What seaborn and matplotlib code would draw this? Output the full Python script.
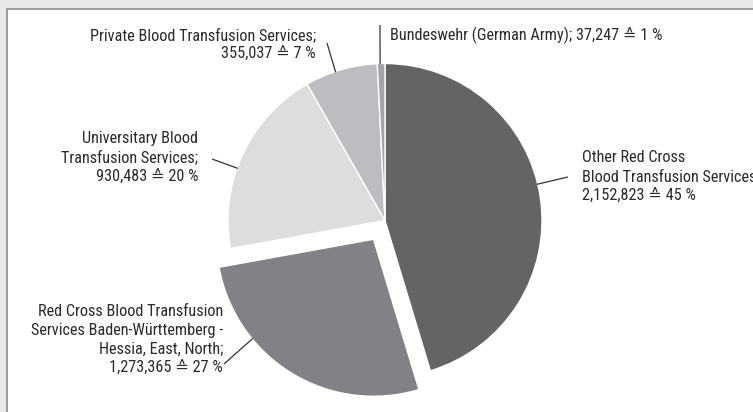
import numpy as np
import matplotlib
matplotlib.use("Agg")
import matplotlib.pyplot as plt
from matplotlib import font_manager as fm
from matplotlib.patches import Rectangle
import seaborn as sns

# ---- data ----
categories = [
    "Other Red Cross\nBlood Transfusion Services;",
    "Red Cross Blood Transfusion\nServices Baden-Württemberg -\nHessia, East, North;",
    "Universitary Blood\nTransfusion Services;",
    "Private Blood Transfusion Services;",
    "Bundeswehr (German Army);",
]
values = [2152823, 1273365, 930483, 355037, 37247]
value_labels = ["2,152,823", "1,273,365", "930,483", "355,037", "37,247"]
percent_labels = ["45 %", "27 %", "20 %", "7 %", "1 %"]

# ---- style ----
sns.set_theme(style="white")
installed = {f.name for f in fm.fontManager.ttflist}
preferred = ["Roboto Condensed", "Liberation Sans Narrow", "Open Sans Condensed",
             "DejaVu Sans Condensed", "Roboto", "Liberation Sans", "DejaVu Sans"]
main_font = next(f for f in preferred if f in installed)
plt.rcParams['font.family'] = [main_font, 'DejaVu Sans']

colors = ["#636466", "#818285", "#dcdddf", "#bcbdc0", "#a4a5a8"]
explode = [0, 0.14, 0, 0, 0]
text_color = "#2a2a2a"
weight = "normal"

W, H = 753, 412
fig = plt.figure(figsize=(W / 100, H / 100), dpi=100)
fig.patch.set_facecolor("#e8e8e8")
fig.add_artist(Rectangle((7 / W, -0.05), 1.0, (H - 8.5) / H + 0.05,
                         transform=fig.transFigure, facecolor="white",
                         edgecolor="#8a8a8a", linewidth=1.2, zorder=0))

ax = fig.add_axes([0, 0, 1, 1])
ax.set_facecolor("none")

CX, CY, R = 385.0, 220.5, 157.0


def px(x, y):
    return ((x - CX) / R, (CY - y) / R)


wedges, _ = ax.pie(values, colors=colors, explode=explode, startangle=90,
                   counterclock=False, radius=1.0,
                   wedgeprops=dict(edgecolor="white", linewidth=1.0))

ax.set_xlim(px(0, 0)[0], px(W, 0)[0])
ax.set_ylim(px(0, H)[1], px(0, 0)[1])
ax.set_aspect("equal")
ax.axis("off")

# pick a font size so that one reference line is about 226 px wide
renderer = fig.canvas.get_renderer()
probe = fig.text(0, 0, categories[3], fontsize=12, fontweight=weight)
wpx = probe.get_window_extent(renderer).width
probe.remove()
fsize = min(13, 12 * 226 / wpx)

# line pitch of about 20 px
probe = fig.text(0, 0, "A\nA", fontsize=fsize, fontweight=weight, linespacing=1.0)
h2 = probe.get_window_extent(renderer).height
probe.remove()
probe = fig.text(0, 0, "A", fontsize=fsize, fontweight=weight, linespacing=1.0)
h1 = probe.get_window_extent(renderer).height
probe.remove()
lsp = 20.0 / max(h2 - h1, 1e-6)

# layout: leader start angle on wedge edge, leader end (px), text anchor (px), alignment
layout = [
    (13.4, (568, 177), (582, 177), "left"),
    (-140.6, (224, 364), (223, 340), "right"),
    (160.5, (212, 159), (198, 158), "right"),
    (108.4, (327, 43), (316, 45), "right"),
    (91.8, (380, 25), (390, 35), "left"),
]

for i, (w, (ang, lend, tpos, ha)) in enumerate(zip(wedges, layout)):
    cx, cy = w.center
    a = np.deg2rad(ang)
    sx, sy = cx + 0.995 * np.cos(a), cy + 0.995 * np.sin(a)
    ex, ey = px(*lend)
    ax.plot([sx, ex], [sy, ey], color="#333333", lw=0.9, solid_capstyle="butt")
    if i == 4:
        label = f"{categories[i]} {value_labels[i]} \u2259 {percent_labels[i]}"
    else:
        label = f"{categories[i]}\n{value_labels[i]} \u2259 {percent_labels[i]}"
    tx, ty = px(*tpos)
    ax.text(tx, ty, label, ha=ha, va="center", multialignment=ha,
            fontsize=fsize, fontweight=weight, color=text_color, linespacing=lsp)

fig.savefig("out.png", dpi=100, facecolor=fig.get_facecolor())
